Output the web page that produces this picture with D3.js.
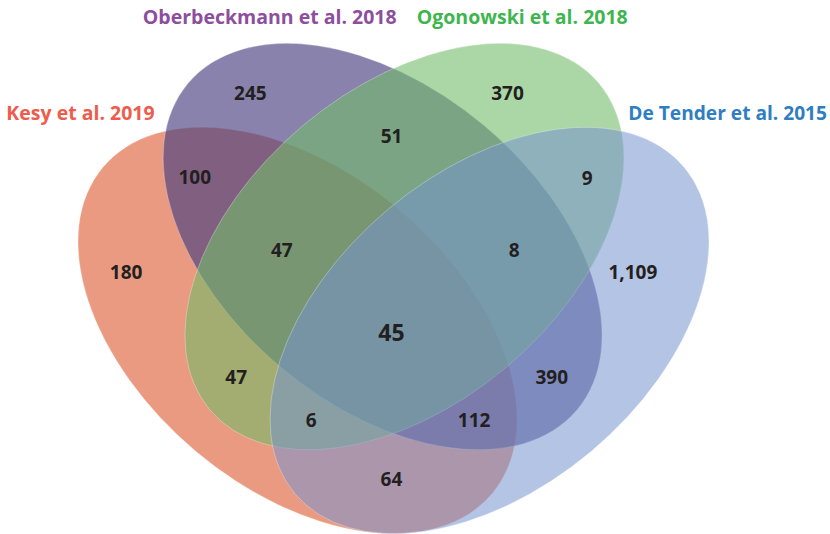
<!DOCTYPE html>
<html><head><meta charset="utf-8">
<script src="https://cdn.jsdelivr.net/npm/d3@7"></script>
<style>html,body{margin:0;padding:0;background:#fff;}svg{display:block;}</style>
</head><body>
<svg id="chart" width="830" height="534"></svg>
<script>
// ---- data ----
const setNames = ["Kesy et al. 2019", "Oberbeckmann et al. 2018", "Ogonowski et al. 2018", "De Tender et al. 2015"];
// region membership codes (K=Kesy, O=Oberbeckmann, G=Ogonowski, D=De Tender)
const regionKeys = ["K", "O", "G", "D", "KO", "OG", "GD", "KG", "OD", "KD", "KOG", "OGD", "KOD", "KGD", "KOGD"];
const regionCounts = [180, 245, 370, 1109, 100, 51, 9, 47, 390, 64, 47, 8, 112, 6, 45];
const setCodes = ["K", "O", "G", "D"];

// ---- layout (unit space geometry of the 4-ellipse Venn) ----
const geom = [
  {cx: -0.378, cy: 0.165, a: 1, b: 0.622, rot: 40},
  {cx: -0.043, cy: -0.165, a: 1, b: 0.622, rot: 40},
  {cx: 0.043, cy: -0.165, a: 1, b: 0.622, rot: -40},
  {cx: 0.378, cy: 0.165, a: 1, b: 0.622, rot: -40}
];
const fillColors = ["#df643c", "#483f7f", "#73bb69", "#7794ce"];
const fillOpacity = [0.65, 0.65, 0.6, 0.55];
const titleColors = ["#ef5b4c", "#8d4e9e", "#3fb550", "#2f7ec1"];
const titleOffsets = [
  {dx: -47, dy: -7, anchor: "end"},
  {dx: -17, dy: -19, anchor: "middle"},
  {dx: 22, dy: -19, anchor: "middle"},
  {dx: 43, dy: -7, anchor: "start"}
];
// label nudges from region centroid (pixels)
const labelNudge = {
  K: [-34, -41], O: [-20, 4], G: [-9, 4], D: [6, -41],
  KO: [-14, -1], OG: [-2, 2], GD: [9, 0], KG: [8, 10], OD: [-7, 10],
  KD: [-2, -4], KOG: [-3, 8], OGD: [12, 8], KOD: [0, 0], KGD: [-2, 0], KOGD: [-2, 1]
};

const W = 830, H = 534;
const x = d3.scaleLinear().domain([-1, 1]).range([393.5 - 254, 393.5 + 254]);
const y = d3.scaleLinear().domain([-1, 1]).range([288.5 - 254, 288.5 + 254]);
const k = x(1) - x(0);

const svg = d3.select("#chart");

const ell = geom.map(g => ({
  cx: x(g.cx), cy: y(g.cy), rx: g.a * k, ry: g.b * k, rot: g.rot
}));

function inside(e, px, py) {
  const t = -e.rot * Math.PI / 180;
  const dx = px - e.cx, dy = py - e.cy;
  const u = dx * Math.cos(t) - dy * Math.sin(t);
  const v = dx * Math.sin(t) + dy * Math.cos(t);
  return (u * u) / (e.rx * e.rx) + (v * v) / (e.ry * e.ry) <= 1;
}

function topPoint(e) {
  const t = e.rot * Math.PI / 180;
  const hh = Math.sqrt(e.rx * e.rx * Math.sin(t) ** 2 + e.ry * e.ry * Math.cos(t) ** 2);
  const xoff = (e.rx * e.rx - e.ry * e.ry) * Math.sin(t) * Math.cos(t) / hh;
  return [e.cx - xoff, e.cy - hh];
}

svg.selectAll("ellipse.set")
  .data(ell)
  .join("ellipse")
  .attr("class", "set")
  .attr("cx", 0).attr("cy", 0)
  .attr("rx", d => d.rx).attr("ry", d => d.ry)
  .attr("transform", d => `translate(${d.cx},${d.cy}) rotate(${d.rot})`)
  .attr("fill", (d, i) => fillColors[i])
  .attr("fill-opacity", (d, i) => fillOpacity[i])
  .attr("stroke", "#ffffff")
  .attr("stroke-opacity", 0.4)
  .attr("stroke-width", 0.7);

// region centroids by sampling
const acc = {};
const step = 2;
for (let px = 0; px < W; px += step) {
  for (let py = 0; py < H; py += step) {
    let key = "";
    ell.forEach((e, i) => { if (inside(e, px, py)) key += setCodes[i]; });
    if (!key) continue;
    if (!acc[key]) acc[key] = {sx: 0, sy: 0, n: 0};
    acc[key].sx += px; acc[key].sy += py; acc[key].n++;
  }
}

const fmt = d3.format(",");
const labels = regionKeys.map((key, i) => {
  const a = acc[key] || {sx: 0, sy: 0, n: 1};
  const nd = labelNudge[key] || [0, 0];
  return {key, value: regionCounts[i], px: a.sx / a.n + nd[0], py: a.sy / a.n + nd[1]};
});

svg.selectAll("text.count")
  .data(labels)
  .join("text")
  .attr("class", "count")
  .attr("x", d => d.px)
  .attr("y", d => d.py)
  .attr("text-anchor", "middle")
  .attr("dominant-baseline", "central")
  .attr("font-family", "'Open Sans', sans-serif")
  .attr("font-weight", 700)
  .attr("font-size", d => d.key === "KOGD" ? 23 : 19)
  .attr("fill", "#231f20")
  .text(d => fmt(d.value));

svg.selectAll("text.title")
  .data(setNames)
  .join("text")
  .attr("class", "title")
  .attr("font-family", "'Open Sans', sans-serif")
  .attr("font-weight", 700)
  .attr("font-size", 19.5)
  .attr("fill", (d, i) => titleColors[i])
  .text(d => d)
  .each(function (d, i) {
    const tp = topPoint(ell[i]);
    const o = titleOffsets[i];
    const sel = d3.select(this)
      .attr("x", tp[0] + o.dx)
      .attr("y", tp[1] + o.dy)
      .attr("text-anchor", o.anchor);
    // fit inside the canvas
    const len = this.getComputedTextLength();
    const x0 = tp[0] + o.dx;
    let avail = Infinity;
    if (o.anchor === "start") avail = W - 3 - x0;
    else if (o.anchor === "end") avail = x0 - 3;
    if (len > avail) sel.attr("textLength", avail).attr("lengthAdjust", "spacingAndGlyphs");
  });
</script>
</body></html>
